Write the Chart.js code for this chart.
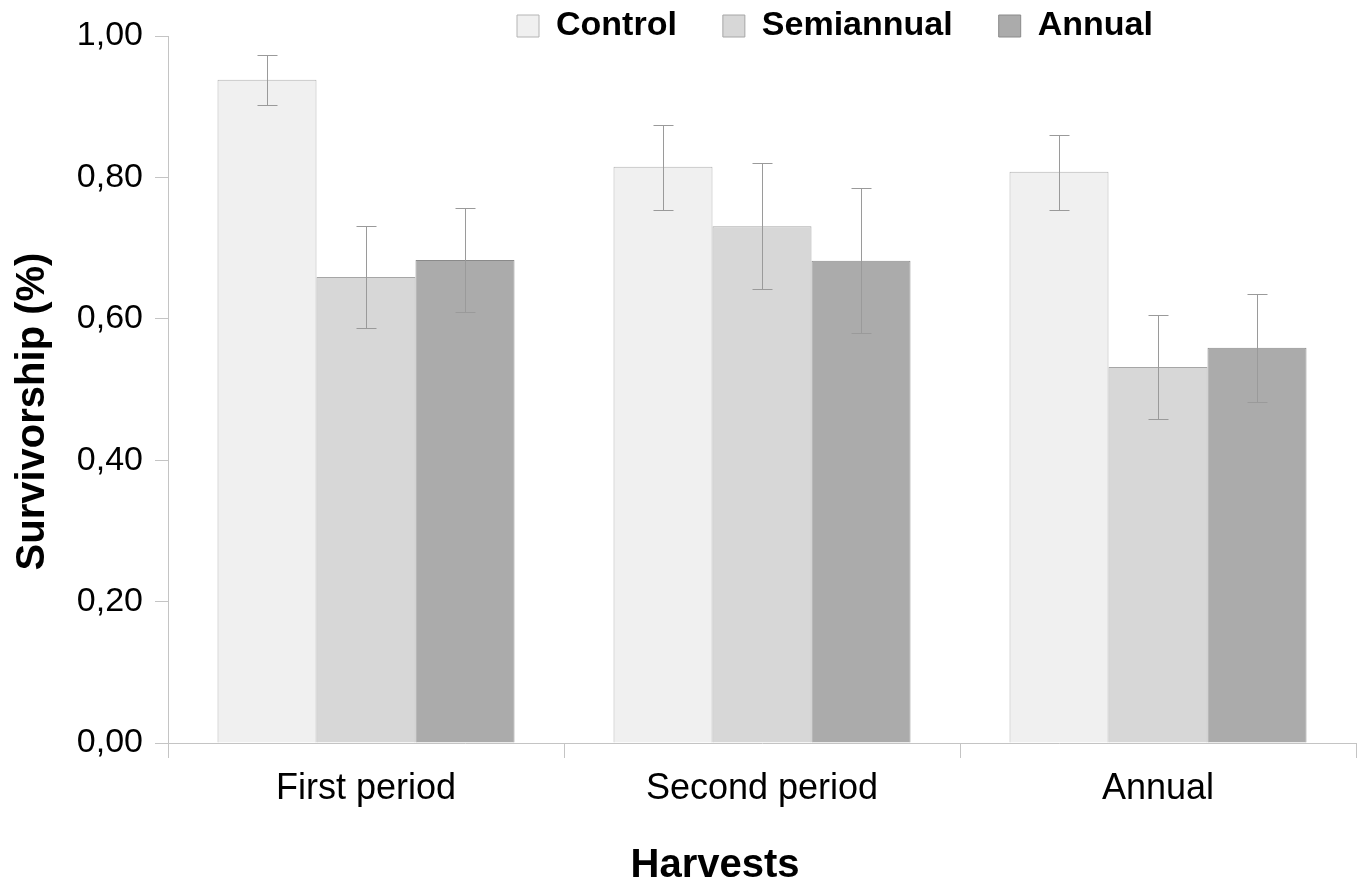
<!DOCTYPE html>
<html>
<head>
<meta charset="utf-8">
<script src="https://cdn.jsdelivr.net/npm/chart.js@4.4.1/dist/chart.umd.min.js"></script>
<style>
  html, body { margin: 0; padding: 0; background: #fff; }
  #wrap { width: 1366px; height: 886px; }
</style>
</head>
<body>
<div id="wrap"><canvas id="bars"></canvas></div>
<script>
const harvests = ['First period', 'Second period', 'Annual'];
const treatments = ['Control', 'Semiannual', 'Annual'];

const controlMean = [0.938, 0.815, 0.808];
const controlLow = [0.902, 0.754, 0.754];
const controlHigh = [0.973, 0.874, 0.860];

const semiMean = [0.659, 0.731, 0.532];
const semiLow = [0.587, 0.642, 0.458];
const semiHigh = [0.731, 0.820, 0.605];

const annualMean = [0.683, 0.682, 0.559];
const annualLow = [0.610, 0.580, 0.482];
const annualHigh = [0.757, 0.785, 0.635];

const yTickLabels = ['0,00', '0,20', '0,40', '0,60', '0,80', '1,00'];

const fills = ['#f0f0f0', '#d7d7d7', '#ababab'];
const edges = ['#b4b4b4', '#a6a6a6', '#8a8a8a'];
const FONT = "'Liberation Sans', Arial, Helvetica, sans-serif";

const errorBars = {
    id: 'errorBars',
    afterDatasetsDraw(chart) {
        const ctx = chart.ctx;
        const y = chart.scales.y;
        ctx.save();
        ctx.strokeStyle = '#9a9a9a';
        ctx.lineWidth = 1;
        chart.data.datasets.forEach((ds, i) => {
            const meta = chart.getDatasetMeta(i);
            meta.data.forEach((bar, j) => {
                const x = Math.round(bar.x) + 0.5;
                const top = Math.round(y.getPixelForValue(ds.high[j])) + 0.5;
                const bot = Math.round(y.getPixelForValue(ds.low[j])) + 0.5;
                ctx.beginPath();
                ctx.moveTo(x, top); ctx.lineTo(x, bot);
                ctx.moveTo(x - 10, top); ctx.lineTo(x + 10, top);
                ctx.moveTo(x - 10, bot); ctx.lineTo(x + 10, bot);
                ctx.stroke();
            });
        });
        ctx.restore();
    }
};

// move the legend to where the original puts it
const legendSpot = {
    id: 'legendSpot',
    afterLayout(chart) {
        const lg = chart.legend;
        if (!lg) return;
        lg.left = 517 - 46;
        lg.top = 26 - 17 - 46;
        lg.bottom = 50; // legend clips to its own box
    }
};

// the axis titles in the original sit off-centre
function shiftTitle(scale, dx, dy) {
    if (scale._titleShifted) return;
    const orig = scale.drawTitle;
    scale.drawTitle = function () {
        this.ctx.save();
        this.ctx.translate(dx, dy);
        orig.apply(this, arguments);
        this.ctx.restore();
    };
    scale._titleShifted = true;
}

new Chart(document.getElementById('bars'), {
    type: 'bar',
    data: {
        labels: harvests,
        datasets: [
            { label: treatments[0], data: controlMean, low: controlLow, high: controlHigh,
              backgroundColor: fills[0], borderColor: edges[0], borderWidth: 1 },
            { label: treatments[1], data: semiMean, low: semiLow, high: semiHigh,
              backgroundColor: fills[1], borderColor: edges[1], borderWidth: 1 },
            { label: treatments[2], data: annualMean, low: annualLow, high: annualHigh,
              backgroundColor: fills[2], borderColor: edges[2], borderWidth: 1 }
        ]
    },
    options: {
        responsive: true,
        maintainAspectRatio: false,
        animation: false,
        layout: { padding: { top: 0, left: 0, right: 10, bottom: 0 } },
        datasets: { bar: { barPercentage: 1, categoryPercentage: 0.75 } },
        plugins: {
            tooltip: { enabled: false },
            legend: {
                position: 'top',
                align: 'start',
                maxHeight: 36,
                labels: {
                    boxWidth: 22,
                    boxHeight: 22,
                    padding: 46,
                    color: '#000',
                    font: { family: FONT, size: 34, weight: 'bold' }
                }
            }
        },
        scales: {
            x: {
                afterFit(scale) { scale.height = 143; shiftTitle(scale, -47, 0); },
                grid: { offset: true, drawOnChartArea: false, drawTicks: true, tickLength: 15, color: '#c4c4c4' },
                border: { display: true, color: '#c4c4c4' },
                ticks: { color: '#000', padding: 9, font: { family: FONT, size: 36 } },
                title: {
                    display: true, text: 'Harvests', color: '#000',
                    padding: { top: 0, bottom: 0 },
                    font: { family: FONT, size: 40, weight: 'bold', lineHeight: 1 }
                }
            },
            y: {
                min: 0, max: 1,
                afterFit(scale) { scale.width = 168; shiftTitle(scale, 0, 22); },
                grid: { drawOnChartArea: false, drawTicks: true, tickLength: 13, color: '#c4c4c4' },
                border: { display: true, color: '#c4c4c4' },
                ticks: {
                    stepSize: 0.2, color: '#000', padding: 12,
                    font: { family: FONT, size: 34 },
                    callback: (v, i) => yTickLabels[i]
                },
                title: {
                    display: true, text: 'Survivorship (%)', color: '#000',
                    padding: { top: 9, bottom: 0 },
                    font: { family: FONT, size: 40, weight: 'bold' }
                }
            }
        }
    },
    plugins: [errorBars, legendSpot]
});
</script>
</body>
</html>
